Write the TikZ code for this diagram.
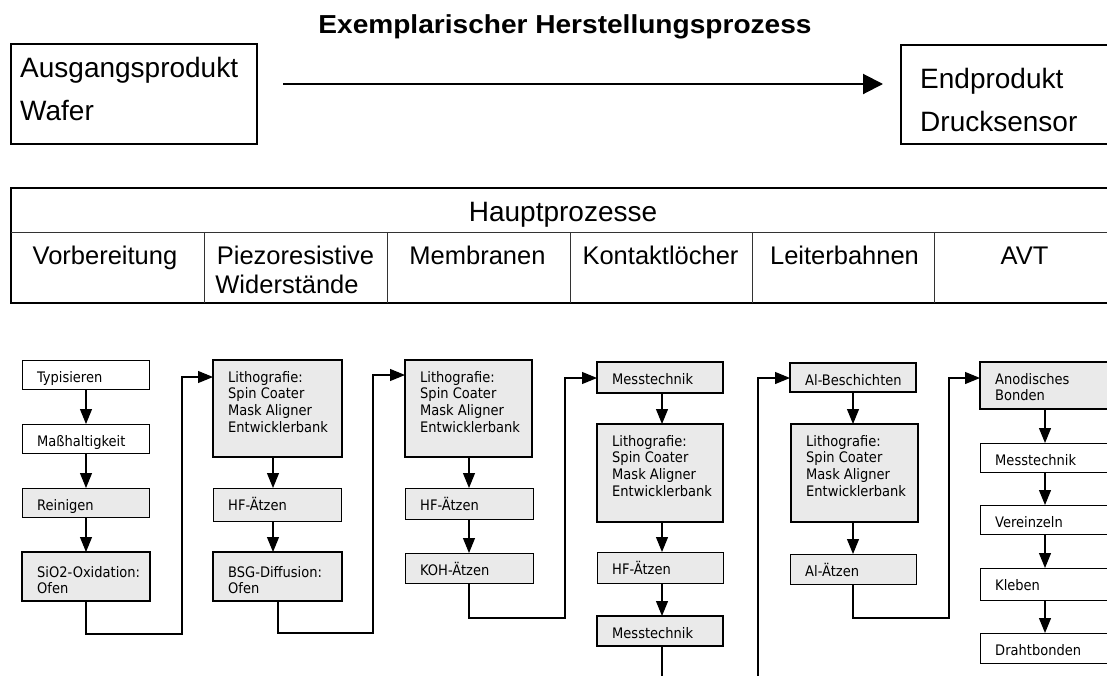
\documentclass[tikz,border=0pt]{standalone}
\usepackage{fontspec}
\setmainfont{Liberation Sans}
\newfontfamily\boxfont{DejaVu Sans Condensed}
\usetikzlibrary{arrows.meta}
\definecolor{boxgray}{HTML}{EAEAEA}
\newcommand{\ml}[1]{\begin{tabular}[t]{@{}l@{}}#1\end{tabular}}
\newcommand{\wx}[2]{\scalebox{#1}[1]{#2}}
\tikzset{
  basebox/.style={anchor=north west, inner sep=0pt, outer sep=0pt},
  wbox/.style={basebox, draw=black, line width=1pt, fill=white},
  gbox/.style={basebox, draw=black, line width=1pt, fill=boxgray},
  tbox/.style={basebox, draw=black, line width=2.7pt, fill=boxgray},
  btext/.style={anchor=base west, inner sep=0pt, font=\boxfont\fontsize{14.5}{16.8}\selectfont},
  conn/.style={line width=1.1pt, -{Triangle[length=15pt,width=12pt]}},
  plain/.style={line width=1.1pt},
  toptext/.style={anchor=base west, inner sep=0pt, font=\fontsize{28}{32}\selectfont},
  tabtext/.style={anchor=base, inner sep=0pt, font=\fontsize{25.5}{29}\selectfont},
  outerline/.style={line width=1.5pt, draw=black},
  innerline/.style={line width=1pt, draw=black!80},
}
\newcommand{\mybox}[7]{%
  \node[#1, minimum width={#5-#3}, minimum height={#6-#4}] (#2) at (#3,#4) {};
  \node[btext] (#2t) at ([xshift=15pt, yshift=-22pt]#2.north west) {\ml{#7}};
}
\begin{document}
\begin{tikzpicture}[x=1pt, y=-1pt]
\useasboundingbox (0,0) rectangle (1107,675);
\clip (0,0) rectangle (1107,675);

% ---------- top ----------
\node[anchor=base, inner sep=0pt, font=\bfseries\fontsize{26}{30}\selectfont] (title) at (565,33) {\wx{1.08}{Exemplarischer Herstellungsprozess}};

\node[basebox, draw=black, line width=1.2pt, minimum width=246pt, minimum height=100pt] (startbox) at (11,44) {};
\node[toptext] (st1) at (20,77) {Ausgangsprodukt};
\node[toptext] (st2) at (20,120) {Wafer};

\node[basebox, draw=black, line width=1.2pt, minimum width=230pt, minimum height=99pt] (endbox) at (901,45) {};
\node[toptext] (en1) at (920,88) {Endprodukt};
\node[toptext] (en2) at (920,131) {Drucksensor};

\coordinate (ar0) at (283,84);
\coordinate (ar1) at (883,84);
\draw[line width=2pt, -{Triangle[length=20pt,width=20pt]}] (ar0) -- (ar1);

% ---------- table ----------
\draw[outerline] (11,188) rectangle (1125,303);
\draw[innerline] (11,232) -- (1125,232);
\foreach \xx in {204,387,570,752,934} {\draw[innerline] (\xx,232) -- (\xx,303);}
\node[tabtext, font=\fontsize{28}{32}\selectfont] (hp) at (563,221) {Hauptprozesse};
\node[tabtext] (c1h) at (105,264) {Vorbereitung};
\node[tabtext] (c2h) at (295.5,264) {Piezoresistive};
\node[tabtext] (c2h2) at (287,293) {Widerstände};
\node[tabtext] (c3h) at (477.5,264) {Membranen};
\node[tabtext] (c4h) at (660.5,264) {Kontaktlöcher};
\node[tabtext] (c5h) at (844.5,264) {Leiterbahnen};
\node[tabtext] (c6h) at (1024.5,264) {AVT};

% ---------- process boxes ----------
\mybox{wbox}{a1}{22}{360}{149}{389}{Typisieren}
\mybox{wbox}{a2}{22}{424}{149}{453}{Maßhaltigkeit}
\mybox{gbox}{a3}{22}{488}{149}{517}{Reinigen}
\node[tbox, minimum width=128, minimum height=49] (a4) at (22,552) {};
\node[btext] (a4t) at ([xshift=15pt, yshift=-25pt]a4.north west) {\ml{SiO2-Oxidation:\\Ofen}};

\mybox{tbox}{b1}{213}{360}{342}{457}{Lithografie:\\Spin Coater\\Mask Aligner\\Entwicklerbank}
\mybox{gbox}{b2}{213}{488}{341}{521}{HF-Ätzen}
\node[tbox, minimum width=129, minimum height=49] (b3) at (213,552) {};
\node[btext] (b3t) at ([xshift=15pt, yshift=-25pt]b3.north west) {\ml{BSG-Diffusion:\\Ofen}};

\mybox{tbox}{c1}{405}{360}{532}{457}{Lithografie:\\Spin Coater\\Mask Aligner\\Entwicklerbank}
\mybox{gbox}{c2}{405}{488}{533}{519}{HF-Ätzen}
\mybox{gbox}{c3}{405}{553}{533}{583}{KOH-Ätzen}

\mybox{tbox}{d1}{597}{362}{723}{393}{Messtechnik}
\mybox{tbox}{d2}{597}{424}{723}{522}{Lithografie:\\Spin Coater\\Mask Aligner\\Entwicklerbank}
\mybox{gbox}{d3}{597}{552}{723}{583}{HF-Ätzen}
\mybox{tbox}{d4}{597}{616}{723}{646}{Messtechnik}

\mybox{tbox}{e1}{790}{363}{916}{392}{Al-Beschichten}
\mybox{tbox}{e2}{791}{424}{918}{522}{Lithografie:\\Spin Coater\\Mask Aligner\\Entwicklerbank}
\mybox{gbox}{e3}{790}{554}{916}{584}{Al-Ätzen}

\mybox{tbox}{f1}{980}{362}{1110}{409}{Anodisches\\Bonden}
\mybox{wbox}{f2}{980}{443}{1110}{472}{Messtechnik}
\mybox{wbox}{f3}{980}{505}{1110}{534}{Vereinzeln}
\mybox{wbox}{f4}{980}{568}{1110}{600}{Kleben}
\mybox{wbox}{f5}{980}{633}{1110}{663}{Drahtbonden}

% ---------- column x positions ----------
\coordinate (xA) at (86,0);
\coordinate (xB) at (273,0);
\coordinate (xBo) at (278,0);
\coordinate (xC) at (469,0);
\coordinate (xD) at (662,0);
\coordinate (xE) at (853,0);
\coordinate (xF) at (1045,0);

% vertical arrows
\draw[conn] (a1.south -| xA) -- (a2.north -| xA);
\draw[conn] (a2.south -| xA) -- (a3.north -| xA);
\draw[conn] (a3.south -| xA) -- (a4.north -| xA);
\draw[conn] (b1.south -| xB) -- (b2.north -| xB);
\draw[conn] (b2.south -| xB) -- (b3.north -| xB);
\draw[conn] (c1.south -| xC) -- (c2.north -| xC);
\draw[conn] (c2.south -| xC) -- (c3.north -| xC);
\draw[conn] (d1.south -| xD) -- (d2.north -| xD);
\draw[conn] (d2.south -| xD) -- (d3.north -| xD);
\draw[conn] (d3.south -| xD) -- (d4.north -| xD);
\draw[conn] (e1.south -| xE) -- (e2.north -| xE);
\draw[conn] (e2.south -| xE) -- (e3.north -| xE);
\draw[conn] (f1.south -| xF) -- (f2.north -| xF);
\draw[conn] (f2.south -| xF) -- (f3.north -| xF);
\draw[conn] (f3.south -| xF) -- (f4.north -| xF);
\draw[conn] (f4.south -| xF) -- (f5.north -| xF);

% column-to-column connectors
\coordinate (j1) at (182,634);
\coordinate (j2) at (373,633);
\coordinate (j3) at (565,618);
\coordinate (j5) at (949,618);
\coordinate (dend) at (662,685);
\coordinate (estart) at (758,685);
\draw[conn] (a4.south -| xA) |- (j1) |- ([yshift=-17pt]b1.north west);
\draw[conn] (b3.south -| xBo) |- (j2) |- ([yshift=-15pt]c1.north west);
\draw[conn] (c3.south -| xC) |- (j3) |- ([yshift=-16pt]d1.north west);
\draw[plain] (d4.south -| xD) -- (dend);
\draw[conn] (estart) |- ([yshift=-15pt]e1.north west);
\draw[conn] (e3.south -| xE) |- (j5) |- ([yshift=-16pt]f1.north west);
\end{tikzpicture}
\end{document}
